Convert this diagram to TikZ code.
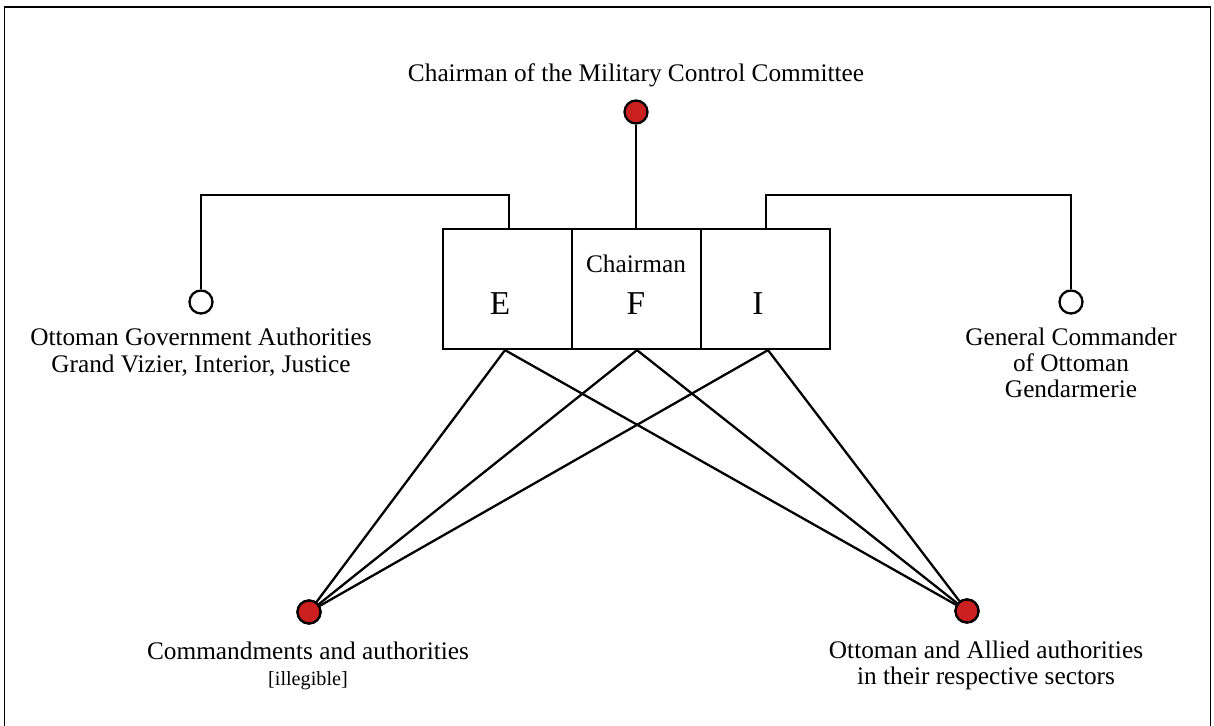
\documentclass[tikz,border=0pt]{standalone}
\usepackage{fontspec}
\setmainfont{Liberation Serif}
\definecolor{dotred}{HTML}{CC1F1F}
\tikzset{
    txt/.style={font=\fontsize{14.4}{14.8}\selectfont, align=center, inner sep=0pt, anchor=base},
    cell/.style={draw, line width=1.3pt, minimum width=2.58cm, minimum height=2.4cm, inner sep=0pt},
    reddot/.style={circle, draw, line width=1.3pt, fill=dotred, minimum size=0.46cm, inner sep=0pt},
    opendot/.style={circle, draw, line width=1.3pt, fill=white, minimum size=0.46cm, inner sep=0pt},
    link/.style={line width=1.3pt}
}
\begin{document}
\begin{tikzpicture}[x={(0.02cm,0)}, y={(0,-0.02cm)}]
    \useasboundingbox (0,0) rectangle (1214,726);
    \draw[line width=1.1pt] (4.5,7) rectangle (1210.5,740);

    % committee chairman
    \node[txt] (title) at (636,82) {Chairman of the Military Control Committee};
    \node[reddot] (top) at (636,112) {};

    % E / F / I cells
    \node[cell] (cE) at (507.5,289) {};
    \node[cell] (cF) at (636.5,289) {};
    \node[cell] (cI) at (765.5,289) {};
    \node[txt, font=\fontsize{19}{20}\selectfont] (lE) at (500,315) {E};
    \node[txt] (lchair) at (636,273) {Chairman};
    \node[txt, font=\fontsize{19}{20}\selectfont] (lF) at (636,315) {F};
    \node[txt, font=\fontsize{19}{20}\selectfont] (lI) at (758,315) {I};

    % side authorities (base = last line)
    \node[opendot] (gov) at (201,302) {};
    \node[opendot] (gend) at (1071,302) {};
    \node[txt] (govtxt) at (201,372) {Ottoman Government Authorities\\Grand Vizier, Interior, Justice};
    \node[txt] (gendtxt) at (1071,398) {General Commander\\of Ottoman\\Gendarmerie};

    % lower authorities
    \node[reddot] (cmd) at (309,612) {};
    \node[reddot] (sect) at (967,611) {};
    \node[txt] (cmdtxt) at (308,685) {Commandments and authorities\\{\fontsize{11.5}{14.8}\selectfont [illegible]}};
    \node[txt] (secttxt) at (986,684) {Ottoman and Allied authorities\\in their respective sectors};

    \draw[link] (top) -- (cF.north -| top);
    \draw[link] (cE.north -| 509,0) -- (509,195) -| (gov);
    \draw[link] (cI.north -| 766,0) -- (766,195) -| (gend);

    \foreach \c/\x in {cE/505, cF/637, cI/768} {
        \draw[link] (\c.south -| \x,0) -- (cmd);
        \draw[link] (\c.south -| \x,0) -- (sect);
    }
    % redraw dots over the line ends
    \node[reddot] at (cmd) {};
    \node[reddot] at (sect) {};
\end{tikzpicture}
\end{document}
